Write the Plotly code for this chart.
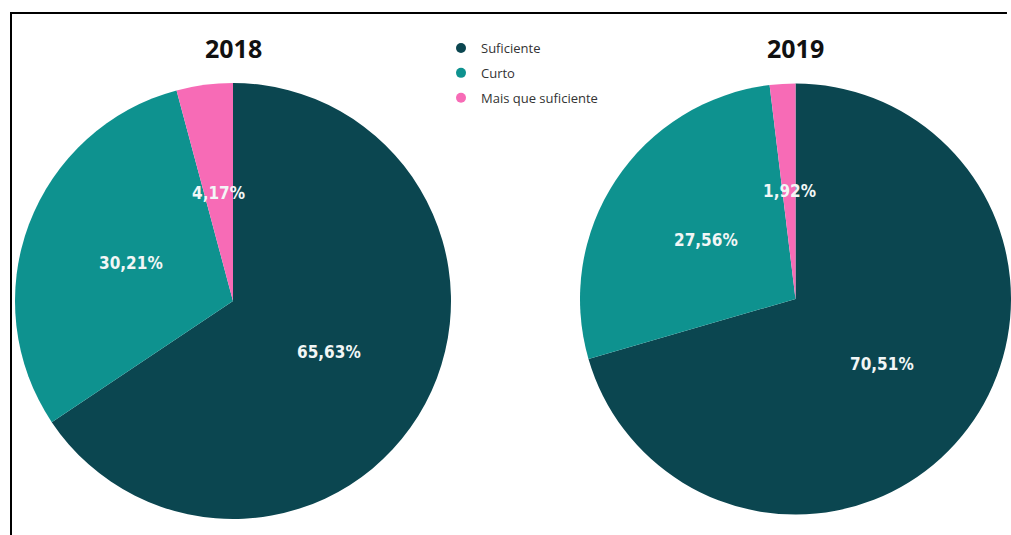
import math
import plotly.graph_objects as go

# Category labels and shares (%) per year
categories = ["Suficiente", "Curto", "Mais que suficiente"]
values_2018 = [65.63, 30.21, 4.17]
values_2019 = [70.51, 27.56, 1.92]
years = ["2018", "2019"]

colors = ["#0B4650", "#0E928F", "#F76BB6"]

W, H = 1011, 535

# Pie placement in pixels: centre x, centre y, radius
pies = [
    (233, 301, 218),
    (796, 299, 216),
]

fig = go.Figure()

annotations = []
for (cx, cy, r), vals, year in zip(pies, [values_2018, values_2019], years):
    x0 = (cx - r) / W
    x1 = min((cx + r) / W, 1.0)
    y0 = (H - cy - r) / H
    y1 = (H - cy + r) / H
    fig.add_trace(go.Pie(
        labels=categories,
        values=vals,
        sort=False,
        direction="clockwise",
        rotation=0,
        marker=dict(colors=colors, line=dict(width=0)),
        textinfo="none",
        hoverinfo="label+percent",
        showlegend=False,
        domain=dict(x=[x0, x1], y=[y0, y1]),
    ))
    # value labels at half the radius, in the middle of each slice
    total = sum(vals)
    start = 0.0
    rr = min(r, (x1 * W - (cx - r)) / 2)
    pcx = (cx - r) + (x1 * W - (cx - r)) / 2
    for v in vals:
        mid = (start + v / 2) / total * 2 * math.pi
        start += v
        px = pcx + 0.5 * rr * math.sin(mid)
        py = cy - 0.5 * rr * math.cos(mid)
        annotations.append(dict(
            x=px / W, y=1 - py / H, xref="paper", yref="paper",
            text=f"{v:.2f}%".replace(".", ","), showarrow=False,
            font=dict(family="DejaVu Sans Condensed, Roboto", size=17,
                      color="#F2F6F6", weight="bold"),
            xanchor="center", yanchor="middle",
        ))
    annotations.append(dict(
        x=pcx / W, y=1 - (cy - r - 35) / H, xref="paper", yref="paper",
        text=f"<b>{year}</b>", showarrow=False,
        font=dict(family="Open Sans", size=25, color="#111111"),
        xanchor="center", yanchor="middle",
    ))

# Legend-only entries with round markers
for i, (name, c) in enumerate(zip(categories, colors)):
    fig.add_trace(go.Scatter(
        x=[None], y=[None], mode="markers", name=name,
        legendgroup=name, hoverinfo="skip",
        marker=dict(symbol="circle", size=10, color=c),
    ))

# Frame: top and left edges drawn as lines on the paper
frame_top = 1 - 13 / H
frame_left = 11 / W

fig.update_layout(
    width=W, height=H,
    margin=dict(l=0, r=0, t=0, b=0),
    paper_bgcolor="white",
    plot_bgcolor="white",
    xaxis=dict(visible=False, showgrid=False, zeroline=False),
    yaxis=dict(visible=False, showgrid=False, zeroline=False),
    annotations=annotations,
    legend=dict(
        x=441 / W, y=1 - 33 / H, xanchor="left", yanchor="top",
        font=dict(family="Open Sans", size=13, color="#333333"),
        tracegroupgap=5, itemwidth=30,
        bgcolor="rgba(0,0,0,0)",
    ),
    shapes=[
        dict(type="path", xref="paper", yref="paper",
             path=f"M {frame_left} -0.02 L {frame_left} {frame_top} L 0.996 {frame_top}",
             line=dict(color="black", width=2), layer="above"),
    ],
)

fig.write_html(
    "out.html",
    config={"displayModeBar": False},
    post_script="document.body.style.margin='0';document.body.style.overflow='hidden';",
)
